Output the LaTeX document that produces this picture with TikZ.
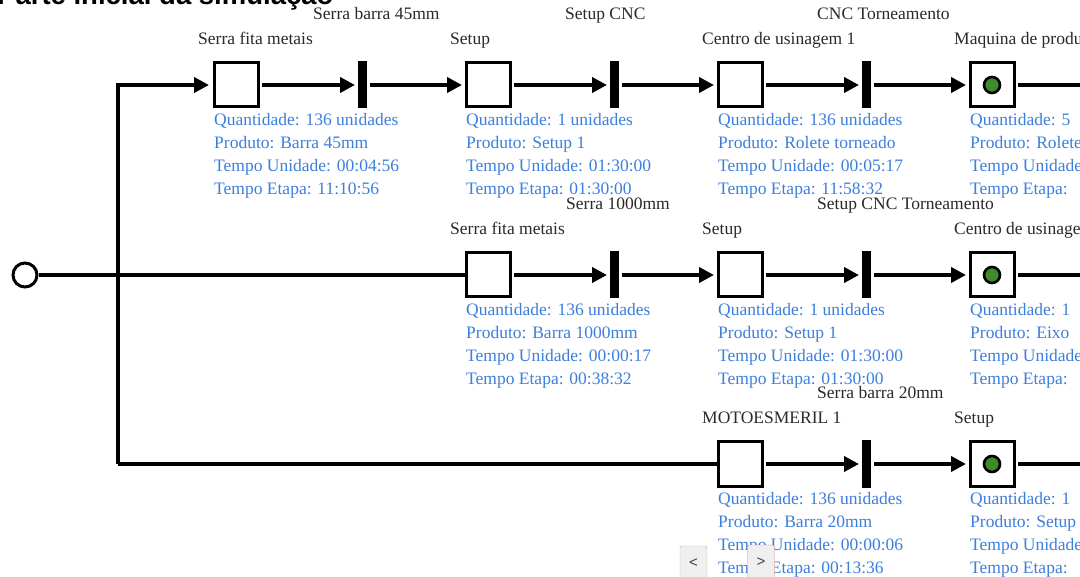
\documentclass[tikz,border=0pt]{standalone}
\usepackage{fontspec}
\setmainfont{Liberation Serif}
\setsansfont{Liberation Sans}
\usepackage{xcolor}
\usepackage{tikz}
\usetikzlibrary{positioning,arrows.meta}

\definecolor{infoblue}{HTML}{3D7FDD}
\definecolor{dotgreen}{HTML}{3F8A2A}
\definecolor{labelgray}{HTML}{2A2A2A}
\definecolor{btnedge}{HTML}{B8B8B8}
\definecolor{btnfill}{HTML}{EFEFEF}
\definecolor{btnactive}{HTML}{E8826C}

\begin{document}
\begin{tikzpicture}[
  x=1pt, y=-1pt,
  >={Triangle[length=15pt,width=15pt]},
  node distance=99.5pt,
  station/.style={draw, line width=3pt, fill=white, minimum size=44pt, inner sep=0pt, outer sep=0pt},
  trans/.style={fill=black, minimum width=9pt, minimum height=47pt, inner sep=0pt, outer sep=0pt},
  active/.style={draw, line width=2.6pt, fill=dotgreen, circle, minimum size=16pt, inner sep=0pt},
  startpt/.style={draw, line width=3pt, circle, minimum size=24pt, inner sep=0pt},
  flow/.style={line width=4pt},
  etapa/.style={font=\fontsize{17.5}{21}\selectfont, text=labelgray, inner sep=0pt, anchor=base west},
  dados/.style={font=\fontsize{17.5}{23}\selectfont, text=infoblue, align=left, inner sep=0pt, anchor=north west},
  navbtn/.style={draw=btnedge, fill=btnfill, rounded corners=2pt, minimum width=27pt, minimum height=34pt, font=\sffamily\fontsize{15}{18}\selectfont, text=black!75},
]
\fill[white] (0,0) rectangle (1080,577);
\useasboundingbox (0,0) rectangle (1080,577);
\clip (0,0) rectangle (1080,577);

\node[font=\sffamily\bfseries\fontsize{27.5}{30}\selectfont, inner sep=0pt, anchor=base west] (title) at (-3,5) {Parte inicial da simulação};

% linha 1
\node[station] (s11) at (236,85) {};
\node[trans, right=of s11] (t11) {};
\node[station, right=of t11] (s12) {};
\node[trans, right=of s12] (t12) {};
\node[station, right=of t12] (s13) {};
\node[trans, right=of s13] (t13) {};
\node[station, right=of t13] (s14) {};
\node[active] (d14) at (s14) {};

% linha 2
\node[station] (s21) at (488,275) {};
\node[trans, right=of s21] (t21) {};
\node[station, right=of t21] (s22) {};
\node[trans, right=of s22] (t22) {};
\node[station, right=of t22] (s23) {};
\node[active] (d23) at (s23) {};

% linha 3
\node[station] (s31) at (740,464) {};
\node[trans, right=of s31] (t31) {};
\node[station, right=of t31] (s32) {};
\node[active] (d32) at (s32) {};

% nomes das etapas
\node[etapa] at ([xshift=-16pt,yshift=18pt]s11.north west) {Serra fita metais};
\node[etapa] at ([xshift=-16pt,yshift=18pt]s12.north west) {Setup};
\node[etapa] at ([xshift=-16pt,yshift=18pt]s13.north west) {Centro de usinagem 1};
\node[etapa] at ([xshift=-16pt,yshift=18pt]s14.north west) {Maquina de produção};
\node[etapa] at ([xshift=-16pt,yshift=18pt]s21.north west) {Serra fita metais};
\node[etapa] at ([xshift=-16pt,yshift=18pt]s22.north west) {Setup};
\node[etapa] at ([xshift=-16pt,yshift=18pt]s23.north west) {Centro de usinagem};
\node[etapa] at ([xshift=-16pt,yshift=18pt]s31.north west) {MOTOESMERIL 1};
\node[etapa] at ([xshift=-16pt,yshift=18pt]s32.north west) {Setup};

\node[etapa] at ([xshift=-49pt,yshift=42pt]t11.north) {Serra barra 45mm};
\node[etapa] at ([xshift=-49pt,yshift=42pt]t12.north) {Setup CNC};
\node[etapa] at ([xshift=-49pt,yshift=42pt]t13.north) {CNC Torneamento};
\node[etapa] at ([xshift=-48pt,yshift=42pt]t21.north) {Serra 1000mm};
\node[etapa] at ([xshift=-49pt,yshift=42pt]t22.north) {Setup CNC Torneamento};
\node[etapa] at ([xshift=-49pt,yshift=42pt]t31.north) {Serra barra 20mm};

% dados
\node[dados] at ([yshift=-6pt]s11.south west) {Quantidade: 136 unidades\\Produto: Barra 45mm\\Tempo Unidade: 00:04:56\\Tempo Etapa: 11:10:56};
\node[dados] at ([yshift=-6pt]s12.south west) {Quantidade: 1 unidades\\Produto: Setup 1\\Tempo Unidade: 01:30:00\\Tempo Etapa: 01:30:00};
\node[dados] at ([yshift=-6pt]s13.south west) {Quantidade: 136 unidades\\Produto: Rolete torneado\\Tempo Unidade: 00:05:17\\Tempo Etapa: 11:58:32};
\node[dados] at ([yshift=-6pt]s14.south west) {Quantidade: 5\\Produto: Rolete\\Tempo Unidade:\\Tempo Etapa:};
\node[dados] at ([yshift=-6pt]s21.south west) {Quantidade: 136 unidades\\Produto: Barra 1000mm\\Tempo Unidade: 00:00:17\\Tempo Etapa: 00:38:32};
\node[dados] at ([yshift=-6pt]s22.south west) {Quantidade: 1 unidades\\Produto: Setup 1\\Tempo Unidade: 01:30:00\\Tempo Etapa: 01:30:00};
\node[dados] at ([yshift=-6pt]s23.south west) {Quantidade: 1\\Produto: Eixo\\Tempo Unidade:\\Tempo Etapa:};
\node[dados] at ([yshift=-6pt]s31.south west) {Quantidade: 136 unidades\\Produto: Barra 20mm\\Tempo Unidade: 00:00:06\\Tempo Etapa: 00:13:36};
\node[dados] at ([yshift=-6pt]s32.south west) {Quantidade: 1\\Produto: Setup\\Tempo Unidade:\\Tempo Etapa:};

% inicio e ramificacao
\node[startpt] (ini) at (25,275) {};
\coordinate (fork1) at (118,85);
\coordinate (fork2) at (118,275);
\coordinate (fork3) at (118,464);
\coordinate (out1) at (1090,85);
\coordinate (out2) at (1090,275);
\coordinate (out3) at (1090,464);

\draw[flow] (ini) -- (fork2);
\draw[flow, ->, shorten >=5pt] (fork3) -- (fork1) -- (s11);
\draw[flow] (fork2) -- (s21);
\draw[flow] (fork3) -- (s31);

\draw[flow, ->, shorten <=4pt, shorten >=2.5pt] (s11) -- (t11);
\draw[flow, ->, shorten <=3.5pt, shorten >=4pt] (t11) -- (s12);
\draw[flow, ->, shorten <=4pt, shorten >=2.5pt] (s12) -- (t12);
\draw[flow, ->, shorten <=3.5pt, shorten >=4pt] (t12) -- (s13);
\draw[flow, ->, shorten <=4pt, shorten >=2.5pt] (s13) -- (t13);
\draw[flow, ->, shorten <=3.5pt, shorten >=4pt] (t13) -- (s14);
\draw[flow, shorten <=4pt] (s14) -- (out1);

\draw[flow, ->, shorten <=4pt, shorten >=2.5pt] (s21) -- (t21);
\draw[flow, ->, shorten <=3.5pt, shorten >=4pt] (t21) -- (s22);
\draw[flow, ->, shorten <=4pt, shorten >=2.5pt] (s22) -- (t22);
\draw[flow, ->, shorten <=3.5pt, shorten >=4pt] (t22) -- (s23);
\draw[flow, shorten <=4pt] (s23) -- (out2);

\draw[flow, ->, shorten <=4pt, shorten >=2.5pt] (s31) -- (t31);
\draw[flow, ->, shorten <=3.5pt, shorten >=4pt] (t31) -- (s32);
\draw[flow, shorten <=4pt] (s32) -- (out3);

% navegacao
\node[navbtn] (prev) at (693.5,563) {<};
\node[navbtn, draw=btnactive] (next) at (761,562) {>};
\end{tikzpicture}
\end{document}
